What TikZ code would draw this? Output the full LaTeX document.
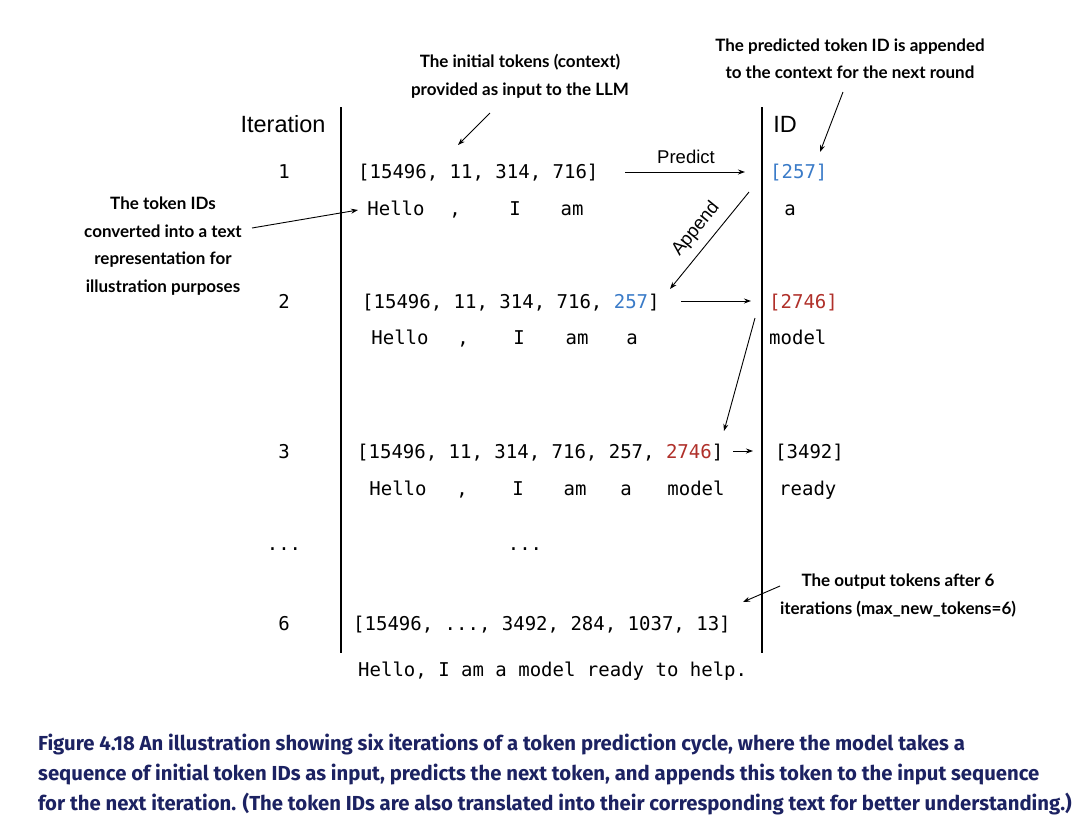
\documentclass[tikz,border=0pt]{standalone}
\usepackage{fontspec}
\setmainfont{Liberation Sans}
\newfontfamily\monof{DejaVu Sans Mono}
\newfontfamily\annof{Lato}
\newfontfamily\capf{Fira Sans}
\usetikzlibrary{arrows.meta}
\definecolor{idblue}{HTML}{3A7BC8}
\definecolor{idred}{HTML}{B0302A}
\definecolor{capnavy}{HTML}{1C2262}
\tikzset{
 mono/.style={font=\monof\fontsize{19}{22}\selectfont, inner sep=0pt, anchor=base},
 monow/.style={mono, anchor=base west},
 lab/.style={font=\fontsize{23.5}{26}\selectfont, inner sep=0pt, anchor=base},
 small/.style={font=\fontsize{18.5}{22}\selectfont, inner sep=0pt},
 anno/.style={font=\annof\bfseries\fontsize{17}{27.5}\selectfont, align=center, inner sep=0pt},
 arr/.style={-{Stealth[length=7pt,width=5pt]}, line width=0.9pt},
 capline/.style={font=\capf\bfseries\fontsize{20.3}{22}\selectfont, text=capnavy, anchor=base west, inner sep=0pt},
 rule/.style={line width=1.2pt}
}
\begin{document}
\begin{tikzpicture}[x=1pt,y=-1pt]
\useasboundingbox[fill=white] (0,0) rectangle (1082,831);
% column rules
\coordinate (l1t) at (341,107); \coordinate (l1b) at (341,653);
\coordinate (l2t) at (762,107); \coordinate (l2b) at (762,653);
\draw[rule] (l1t) -- (l1b);
\draw[rule] (l2t) -- (l2b);
% headers
\node[lab] (hIter) at (283,132) {Iteration};
\node[lab] (hID) at (785,132) {ID};
% iteration numbers
\node[mono] (n1) at (284,178) {1};
\node[mono] (n2) at (284,308) {2};
\node[mono] (n3) at (284,458) {3};
\node[mono] (ndots) at (284,550) {...};
\node[mono] (n6) at (284,630) {6};
% row 1
\node[monow] (id1) at (358,178) {[15496, 11, 314, 716]};
\node[mono] (w1a) at (396,215) {Hello};
\node[mono] (w1b) at (455,215) {,};
\node[mono] (w1c) at (515,215) {I};
\node[mono] (w1d) at (572,215) {am};
\node[monow] (o1) at (770,178) {\color{idblue}[257]};
\node[mono] (t1) at (790,215) {a};
% row 2
\node[monow] (id2) at (362,308) {[15496, 11, 314, 716, {\color{idblue}257}]};
\node[mono] (w2a) at (400,344) {Hello};
\node[mono] (w2b) at (463,344) {,};
\node[mono] (w2c) at (519,344) {I};
\node[mono] (w2d) at (577,344) {am};
\node[mono] (w2e) at (632,344) {a};
\node[monow] (o2) at (769,308) {\color{idred}[2746]};
\node[monow] (t2) at (769,344) {model};
% row 3
\node[monow] (id3) at (357,458) {[15496, 11, 314, 716, 257, {\color{idred}2746}]};
\node[mono] (w3a) at (398,495) {Hello};
\node[mono] (w3b) at (462,495) {,};
\node[mono] (w3c) at (518,495) {I};
\node[mono] (w3d) at (575,495) {am};
\node[mono] (w3e) at (626,495) {a};
\node[mono] (w3f) at (696,495) {model};
\node[monow] (o3) at (775,458) {[3492]};
\node[monow] (t3) at (779,495) {ready};
% dots
\node[mono] (mdots) at (525,550) {...};
% row 6
\node[monow] (id6) at (353,630) {[15496, ..., 3492, 284, 1037, 13]};
\node[monow] (final) at (358,676) {Hello, I am a model ready to help.};
% annotations
\node[anno] (aTop) at (520,76) {The initial tokens (context)\\provided as input to the LLM};
\node[anno] (aRight) at (850,58.5) {The predicted token ID is appended\\to the context for the next round};
\node[anno] (aLeft) at (163,246) {The token IDs\\converted into a text\\representation for\\illustration purposes};
\node[anno] (aOut) at (898,595.5) {The output tokens after 6\\iterations (max\_new\_tokens=6)};
% arrow end points
\coordinate (aTopS) at (490,113); \coordinate (aTopE) at (458,145);
\coordinate (aRightS) at (843,92); \coordinate (aRightE) at (820,152);
\coordinate (aLeftS) at (252,228); \coordinate (aLeftE) at (358,210);
\coordinate (aOutS) at (780,586); \coordinate (aOutE) at (743,602);
\coordinate (pS) at (625,172); \coordinate (pE) at (745,172);
\coordinate (apS) at (749,192); \coordinate (apE) at (670,289);
\coordinate (r2S) at (681,301); \coordinate (r2E) at (751,301);
\coordinate (dnS) at (755,318); \coordinate (dnE) at (724,431);
\coordinate (r3S) at (733,451); \coordinate (r3E) at (753,451);
\draw[arr] (aTopS) -- (aTopE);
\draw[arr] (aRightS) -- (aRightE);
\draw[arr] (aLeftS) -- (aLeftE);
\draw[arr] (aOutS) -- (aOutE);
\draw[arr] (pS) -- (pE);
\node[small] (lPredict) at (686,157) {Predict};
\draw[arr] (apS) -- (apE);
\node[small, rotate=51] (lAppend) at (696,229) {Append};
\draw[arr] (r2S) -- (r2E);
\draw[arr] (dnS) -- (dnE);
\draw[arr] (r3S) -- (r3E);
% caption
\node[capline] (c1) at (38,750) {Figure 4.18 An illustration showing six iterations of a token prediction cycle, where the model takes a};
\node[capline] (c2) at (38,780) {sequence of initial token IDs as input, predicts the next token, and appends this token to the input sequence};
\node[capline] (c3) at (38,810) {for the next iteration. (The token IDs are also translated into their corresponding text for better understanding.)};
\end{tikzpicture}
\end{document}
